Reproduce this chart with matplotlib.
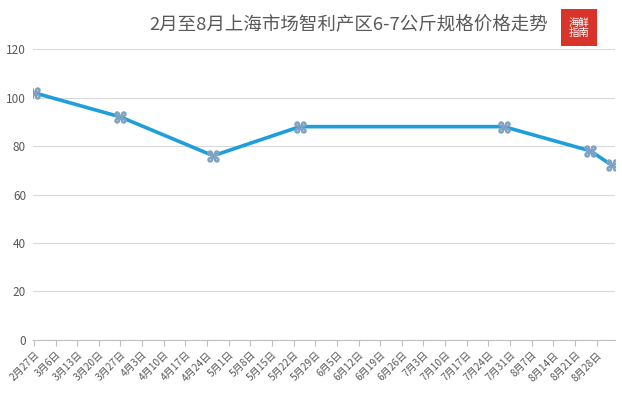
import matplotlib
matplotlib.use("Agg")
import matplotlib.pyplot as plt
import matplotlib.dates as mdates
import numpy as np

plt.rcParams['font.family'] = ['Noto Sans CJK SC', 'DejaVu Sans']

# 数据：日期与价格
dates = np.array(['2017-02-27', '2017-03-27', '2017-04-26', '2017-05-24',
                  '2017-07-29', '2017-08-26', '2017-09-02'], dtype='datetime64[D]')
prices = [102, 92, 76, 88, 88, 78, 72]

# x 轴刻度（每周）
tick_dates = np.arange(np.datetime64('2017-02-27'), np.datetime64('2017-09-03'),
                       np.timedelta64(7, 'D'))
tick_labels = ['2月27日', '3月6日', '3月13日', '3月20日', '3月27日', '4月3日', '4月10日',
               '4月17日', '4月24日', '5月1日', '5月8日', '5月15日', '5月22日', '5月29日',
               '6月5日', '6月12日', '6月19日', '6月26日', '7月3日', '7月10日', '7月17日',
               '7月24日', '7月31日', '8月7日', '8月14日', '8月21日', '8月28日']
y_ticks = [0, 20, 40, 60, 80, 100, 120]

title = '2月至8月上海市场智利产区6-7公斤规格价格走势'

fig = plt.figure(figsize=(6.22, 3.99), dpi=100)
ax = fig.add_axes([0.053, 0.148, 0.936, 0.729])

x = mdates.date2num(dates.astype('datetime64[s]').astype(object))
tx = mdates.date2num(tick_dates.astype('datetime64[s]').astype(object))

ax.plot(x, prices, color='#1E9FDC', linewidth=2.6, zorder=3)
ax.plot(x, prices, linestyle='none', marker='$⌘$', markersize=8,
        color='#7FA3C4', zorder=4)

ax.set_ylim(0, 120)
ax.set_yticks(y_ticks)
ax.set_xlim(tx[0] - 0.3, tx[0] + 188)
ax.set_xticks(tx)
ax.set_xticklabels(tick_labels, rotation=45, ha='right', rotation_mode='anchor',
                   fontsize=7.3, color='#595959')
ax.tick_params(axis='x', length=4, color='#BFBFBF', pad=3)
ax.tick_params(axis='y', length=0, labelsize=8.5, labelcolor='#595959', pad=5)

ax.grid(axis='y', color='#D9D9D9', linewidth=0.8)
ax.set_axisbelow(True)
for s in ['top', 'right', 'left']:
    ax.spines[s].set_visible(False)
ax.spines['bottom'].set_color('#BFBFBF')
ax.spines['bottom'].set_linewidth(0.8)

fig.text(0.56, 0.937, title, ha='center', va='center', fontsize=13.3, color='#595959')

# 右上角标志
fig.patches.append(plt.Rectangle((0.902, 0.885), 0.058, 0.093, transform=fig.transFigure,
                                 facecolor='#D9342B', edgecolor='none'))
fig.text(0.931, 0.931, '海鲜\n指南', ha='center', va='center', fontsize=7.5,
         color='white', linespacing=1.0)

fig.savefig('out.png', dpi=100)
